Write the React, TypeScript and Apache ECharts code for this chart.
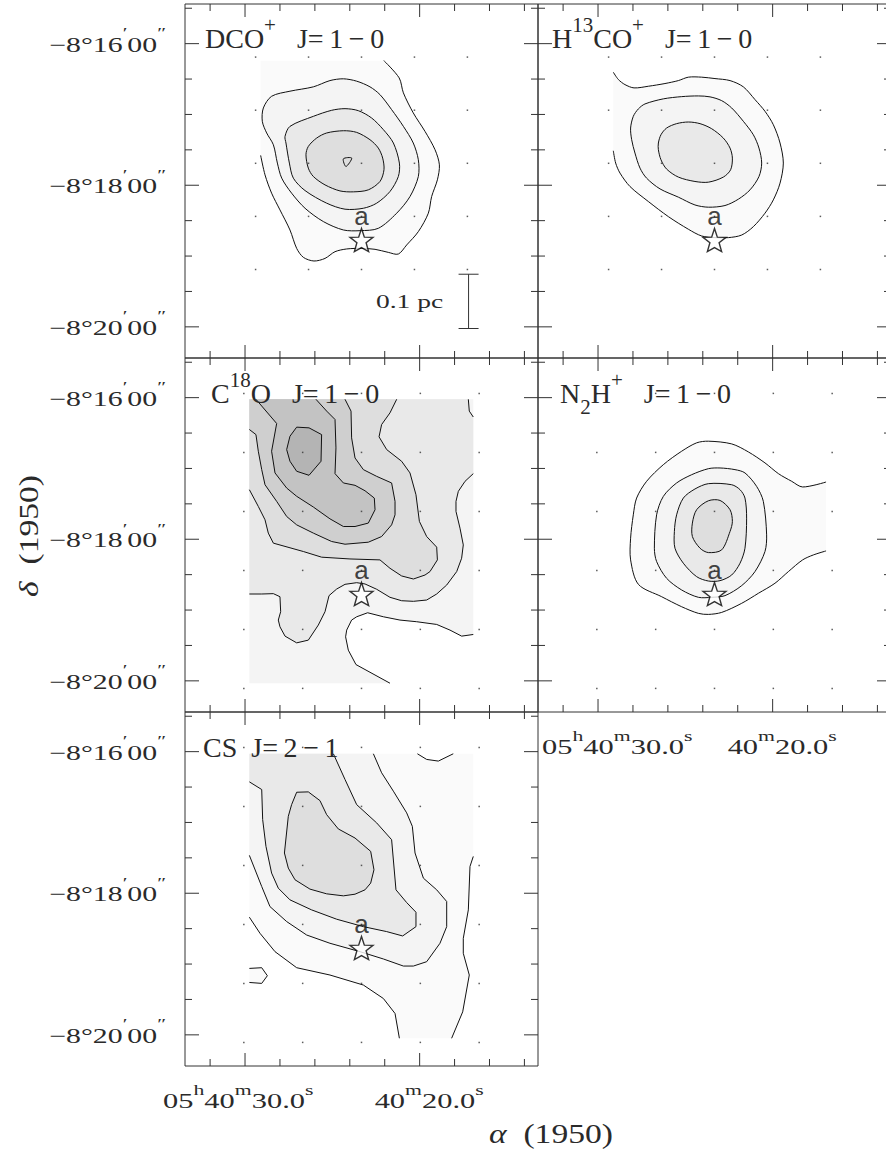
import React, { useEffect, useRef } from "react";
import * as echarts from "echarts";

// All contour vertices are map offsets from the star, in arcsec: [east, north].
const xRange = [-150, 150];
const yRange = [-100, 200];
const raTicksSec = [32, 30, 28, 26, 24, 22, 20, 18, 16, 14];
const raMajorSec = [30, 20];
const decTicksMin = [15.5, 16, 16.5, 17, 17.5, 18, 18.5, 19, 19.5, 20];
const decMajorMin = [16, 18, 20];
const starRaSec = 23.33;
const arcsecPerRaSec = 14.84;
const dec16Offset = 166.4;
const dots45x = [90, 45, 0, -45, -90];
const dots45y = [155, 110, 65, 20, -25];
const dots50x = [100, 50, 0, -50, -100];
const dots50y = [170, 120, 70, 20, -30, -80];
const scaleBarX = -91;
const scaleBarY = [-29, -75];
const star = [[0, 0]];

const dco1 = [[-19,152],[-32,137.4],[-35.6,124.7],[-44,107.7],[-54,92],[-62.5,76.5],[-66.2,63.7],[-64.5,51],[-59.6,36.8],[-56.8,22.7],[-48.3,7.1],[-38.4,-4.2],[-31.3,-11.9],[-22.8,-10.5],[-11.5,-7.9],[-0.1,-7.1],[12.6,-7.6],[22.5,-9.9],[31,-15.6],[40.4,-17.8],[49.4,-14.7],[55.1,-7.1],[60.8,8.5],[69.3,25.5],[76.4,39.7],[82,55.2],[85.7,71.7]];
const dco1Edge = [[85.7,152]];
const dco2 = [[76.4,121.8],[60.8,126.1],[40.9,129.8],[26.8,135.1],[15.4,136.6],[4.1,134.6],[-7.2,129.8],[-15.7,123.2],[-25.6,110.5],[-35.6,96.3],[-44,82.2],[-48.3,68],[-48.3,53.8],[-41.2,36.8],[-29.9,22.7],[-14.3,9.9],[1.3,7.9],[15.4,8.5],[32.4,15.6],[48,26.9],[59.4,39.7],[67.8,52.4],[71.5,65.2],[74.9,80.7],[80.6,90.7],[84.3,100.6],[83.4,111.9]];
const dco3 = [[60.8,96.3],[40.9,104.8],[25.4,109.9],[14,111.3],[2.7,109.6],[-8.6,103.4],[-18.6,93.5],[-27.1,82.2],[-32.2,65.2],[-31.3,53.8],[-24.2,41.1],[-12.9,31.2],[-1.6,26.9],[14,26.1],[29.6,31.2],[48,41.9],[57.9,52.4],[61.3,65.2],[64.2,82.2],[65,87.8]];
const dco4 = [[47.2,72.2],[45.2,79.3],[38.1,86.4],[29.6,90.7],[15.4,92.6],[4.1,91.2],[-7.2,85],[-14.3,77.9],[-18,69.4],[-19.1,59.5],[-15.7,49.6],[-5.8,42.5],[6.9,40.8],[18.3,41.6],[31,46.7],[40.9,53.8],[45.2,60.9]];
const dco5 = [[15.4,68.8],[8.3,69.4],[13.2,62.3]];

const h13co1 = [[86,142.2],[81.7,136],[76.1,131.7],[68.4,128.9],[56.2,130.3],[42.1,132.6],[30.7,135.1],[22.2,138],[10.9,138],[-0.4,136.8],[-13.2,135.1],[-24.5,129.8],[-34.4,119],[-42.9,109.1],[-50,97.7],[-55.7,82.2],[-58.5,65.2],[-55.7,48.2],[-50,34],[-42.9,22.7],[-33,11.3],[-23.1,4.2],[-11.8,2],[-0.4,2],[10.9,3.4],[22.2,9.1],[39.2,19.8],[56.2,32.6],[71.8,45.3],[80.3,56.7],[84,65.2],[86,75.6]];
const h13co2 = [[59.1,115.3],[43.5,119.6],[27.9,121.5],[13.7,122.1],[3.8,121.3],[-6.1,118.1],[-14.6,111.9],[-24.5,100.6],[-33,89.2],[-37.8,77.9],[-40.1,65.2],[-37.8,53.8],[-30.2,42.5],[-20.3,34.6],[-8.9,29.2],[5.2,27.8],[16.6,29.7],[30.7,36.3],[46.3,43.3],[57.7,52.4],[63.3,60.9],[67.6,73.7],[70.4,85],[71.3,94.9],[69,104.8],[64.7,111.1]];
const h13co3 = [[47.7,82.2],[45.5,89.2],[40.7,94.9],[32.2,98.6],[22.2,100],[12.3,98.6],[2.4,94.3],[-7.5,86.4],[-13.2,77.9],[-15.2,69.4],[-13.7,59.5],[-7.5,53.3],[5.2,49],[16.6,49.6],[30.7,53.3],[40.7,60.1],[45.5,68],[47.7,76.5]];

const c18o1 = [[-24.2,-75.6],[4.7,-59.8],[11.2,-47.6],[13.5,-36.3],[12.6,-30.6],[8.4,-22.1],[4.1,-19.3],[-5.2,-15.9],[-18.6,-19.3],[-32.7,-22.1],[-46.9,-23.5],[-63.9,-25.8],[-75.2,-30.6],[-85.1,-35.7],[-95,-34.3]];
const c18o1Edge = [[-95,165],[95.3,165],[95.3,-75.6]];
const c18o2 = [[-95,102],[-88,95.5],[-82.3,87],[-80.3,78.5],[-80.3,70],[-83.7,55.8],[-86.5,41.6],[-85.1,30.3],[-80.9,19],[-72.4,7.6],[-63.9,0],[-55.4,-5.1],[-44.1,-6.2],[-34.1,-5.7],[-24.2,-2.8],[-12.9,4],[-3,8.5],[4.1,9.6],[14,8.2],[21.1,4.2],[27.6,-1.4],[31,-15],[36.7,-26.3],[45.2,-39.1],[55.1,-41.4],[65,-35.7],[69.3,-27.8],[70.7,-22.1],[68.7,-15],[69.3,-2.3],[74.9,0.3],[84.8,0],[95.3,0]];
const c18o2Corner = [[-90.8,165],[-91.6,155],[-95,150]];
const c18o2Edge = [[95.3,165],...c18o2Corner];
const c18o3 = [[-29.9,165],[-24.2,153.5],[-17.1,143.6],[-14.9,133.2],[-21.4,122.4],[-34.1,112.5],[-41.2,102.6],[-46.3,84.1],[-49.2,61.5],[-55.4,48.7],[-63.9,39.7],[-64.5,28.9],[-58.2,19],[-54,16.1],[-44.1,12.7],[-34.1,15.3],[-24.2,21.8],[-15.7,28.9],[9.8,29.7],[33.9,31.2],[49.4,36],[74.9,43.1],[79.2,51.6],[82,62.9],[87.7,74.2],[95.3,88.4]];
const c18o3Edge = [[95.3,165]];
const c18o4 = [[14,165],[8.9,155],[8.4,132.3],[5.5,115.3],[-1.6,105.4],[-12.9,99.7],[-25.6,94.1],[-28.5,78.5],[-28.5,67.1],[-25.6,58.6],[-17.1,48.7],[-5.8,43.9],[14,42.2],[25.4,44.5],[40.9,51.6],[55.1,58.6],[63.6,65.7],[72.1,78.5],[82,92.6],[84.8,105.4],[87.7,121],[89.7,135.1],[95.3,139.4]];
const c18o4Edge = [[95.3,165]];
const c18o5 = [[38.7,165],[29.6,155],[22.5,147.9],[21.7,123.8],[22.5,102],[15.4,94.1],[5.5,92.1],[-3,87.5],[-10.9,81.3],[-11.5,71.4],[-5.8,60.1],[5.5,57.2],[15.4,57.2],[26.8,63.7],[40.9,73.7],[55.1,82.8],[63.6,89.8],[73.5,102.6],[76.4,121],[72.1,144.5],[89.7,165]];
const c18o5Edge: number[][] = [];
const c18o6 = [[55.1,141.4],[44.6,140.8],[33.9,135.1],[34.4,112.5],[44.6,100.6],[55.1,104],[60.8,112.5],[63.6,122.4],[60.8,133.7]];

const n2h1 = [[-94.8,94.9],[-74.9,90.7],[-65.6,95.5],[-54.3,102],[-42.9,111.1],[-28.8,120.4],[-14.6,127.2],[5.2,129.5],[15.2,128.1],[27.9,121],[43.5,109.6],[57.7,95.5],[66.2,81.3],[69,67.1],[71.3,47.3],[71.3,28.9],[64.7,8.2],[44.9,-2.3],[27.9,-10.8],[13.7,-16.4],[5.2,-17.3],[-6.1,-15.6],[-23.1,-7.9],[-37.3,0.6],[-51.4,9.1],[-62.8,19],[-74.9,28.9],[-84,33.1],[-94.8,36.5]];
const n2h2 = [[5.2,106.2],[-4.7,106.8],[-17.4,105.4],[-25.9,102.6],[-35.8,91.2],[-41.5,78.5],[-44.3,50.1],[-42.9,36],[-34.4,19],[-23.1,7.1],[-8.9,-1.4],[2.4,-2.8],[13.7,-2.8],[27.9,3.4],[40.7,13.3],[49.2,27.5],[51.1,38.8],[49.2,67.1],[43.5,82.7],[32.2,94.1],[19.4,101.1]];
const n2h3 = [[5.2,93.5],[-14.6,92.6],[-21.7,88.4],[-25.9,81.3],[-27.3,64.3],[-25.9,38.8],[-21.7,26.1],[-14.6,16.1],[-4.7,11.3],[5.2,11],[15.2,14.7],[26.5,26.1],[33.6,38.8],[34.1,53],[32.2,67.1],[26.5,81.3],[16.6,89]];
const n2h4 = [[5.2,79],[-4.7,79.3],[-13.2,71.4],[-15.2,61.5],[-13.2,53],[-6.1,37.4],[5.2,35.1],[12.3,38.8],[18.8,48.7],[18.8,60.1],[15.2,71.4]];

const cs1 = [[95.3,26.1],[86.3,12.5],[73.5,-3.1],[55.1,-16.7],[26.8,-22.9],[-1.6,-31.4],[-18.6,-42.8],[-28.5,-55.5],[-32.2,-76.5]];
const cs1b = [[-76.6,-76.5],[-86,-54.1],[-91.6,-22.9],[-86.5,-4.5],[-86.5,8.2],[-90.8,32.3],[-92.2,69.1],[-95,77.6]];
const cs1Notch = [[-78,164.6],[-65.3,158.4],[-55.4,159.8],[-47.5,164.6]];
const cs1Edge = [...cs1b, [-95,164.6], ...cs1Notch, [95.3,164.6]];
const csIsland = [[95.3,-17.3],[84.8,-16.7],[80,-23.5],[84.8,-30],[95.3,-29.2]];
const cs2 = [[-10.1,164.6],[-17.1,148.5],[-27.1,132.9],[-38.4,114.5],[-43.2,103.1],[-45.5,80.5],[-52.6,59.2],[-63.9,49.3],[-72.4,39.4],[-72.4,18.1],[-66.7,4],[-55.4,-11.6],[-44.1,-15.3],[-35.6,-15.3],[-18.6,-9.3],[1.3,-3.1],[26.8,4],[46.6,11],[63.6,22.4],[77.8,35.1],[84.8,52.1],[95.3,78.5]];
const cs2Edge = [[95.3,164.6]];
const cs3 = [[23.9,164.6],[14,142.8],[4.1,121.5],[-12.9,106],[-25.6,91.8],[-29.3,49.3],[-38.4,38.5],[-46.3,30.3],[-46.3,18.1],[-35,10.2],[-21.4,13.9],[-1.6,18.1],[21.1,24.4],[42.4,32.3],[60.8,40.8],[70.7,50.7],[76.4,63.5],[81.2,86.1],[84,108.8],[84.8,134.3],[95.3,140.8]];
const cs3Edge = [[95.3,164.6]];
const cs4 = [[55.1,132],[45.2,132.3],[35.3,124.9],[29.6,113],[19.7,100.9],[5.5,93.2],[-7.8,81.9],[-10.6,66.3],[-7.8,55],[-3,49.3],[5.5,45.6],[15.4,44.2],[29.6,45.9],[43.8,49.9],[56.5,57.8],[62.2,67.7],[65.5,80.5],[62.2,111.6],[59.4,121.5]];

const greys = ["#fafafa", "#f4f4f4", "#e9e9e9", "#dedede", "#cfcfcf", "#c3c3c3", "#b4b4b4"];
const INK = "#2a2a2a";
const LINE = "#111";
const SERIF = "Liberation Serif";

const labelRich = {
  n: { fontFamily: SERIF, fontSize: 21, lineHeight: 38, fill: INK, verticalAlign: "middle" },
  s: { fontFamily: SERIF, fontSize: 15, lineHeight: 15, fill: INK, verticalAlign: "top" },
};
const titleRich = {
  n: { fontFamily: SERIF, fontSize: 28, lineHeight: 48, fill: INK, verticalAlign: "middle" },
  s: { fontFamily: SERIF, fontSize: 21, lineHeight: 21, fill: INK, verticalAlign: "top" },
  d: { fontFamily: SERIF, fontSize: 21, lineHeight: 21, fill: INK, verticalAlign: "bottom" },
};
const nameRich = {
  g: { fontFamily: SERIF, fontSize: 28, fontStyle: "italic", fill: INK },
  n: { fontFamily: SERIF, fontSize: 28, fill: INK },
};

const raLabelA = "{n|05}{s|h}{n|40}{s|m}{n|30.0}{s|s}";
const raLabelB = "{n|40}{s|m}{n|20.0}{s|s}";
const decLabel = (m: number) => `{n|−8°${m}}{s|′}{n|00}{s|″}`;
const T = "\u2009";
const transition10 = `J=${T}1${T}−${T}0`;
const transition21 = `J=${T}2${T}−${T}1`;

type Layer = { fill: string; line: number[][]; edge?: number[][]; closed?: boolean; extra?: number[][][] };
type Panel = {
  left: number; top: number; title: string; titleX: number; titleY: number; layers: Layer[];
  dotX: number[]; dotY: number[]; smooth: number; yLabels: boolean; raLabels?: number[]; scaleBar?: boolean;
};

const panels: Panel[] = [
  {
    left: 185, top: 4, title: `{n|DCO}{s|+}{n|   ${transition10}}`, titleX: 205, titleY: 38, smooth: 0.3, yLabels: true, scaleBar: true,
    dotX: dots45x, dotY: dots45y,
    layers: [
      { fill: greys[0], line: dco1, edge: dco1Edge },
      { fill: greys[1], line: dco2, closed: true },
      { fill: greys[2], line: dco3, closed: true },
      { fill: greys[3], line: dco4, closed: true },
      { fill: greys[3], line: dco5, closed: true },
    ],
  },
  {
    left: 538, top: 4, title: `{n|H}{s|13}{n|CO}{s|+}{n|   ${transition10}}`, titleX: 552, titleY: 38, smooth: 0.3, yLabels: false,
    dotX: dots45x, dotY: dots45y,
    layers: [
      { fill: greys[0], line: h13co1, edge: [] },
      { fill: greys[1], line: h13co2, closed: true },
      { fill: greys[2], line: h13co3, closed: true },
    ],
  },
  {
    left: 185, top: 358, title: `{n|C}{s|18}{n|O   ${transition10}}`, titleX: 211, titleY: 393, smooth: 0, yLabels: true,
    dotX: dots50x, dotY: dots50y,
    layers: [
      { fill: greys[1], line: c18o1, edge: c18o1Edge },
      { fill: greys[2], line: c18o2, edge: c18o2Edge, extra: [c18o2Corner] },
      { fill: greys[3], line: c18o3, edge: c18o3Edge },
      { fill: greys[4], line: c18o4, edge: c18o4Edge },
      { fill: greys[5], line: c18o5, edge: c18o5Edge },
      { fill: greys[6], line: c18o6, closed: true },
    ],
  },
  {
    left: 538, top: 358, title: `{n|N}{d|2}{n|H}{s|+}{n|   ${transition10}}`, titleX: 560, titleY: 393, smooth: 0.3, yLabels: false, raLabels: [-56, -45],
    dotX: dots50x, dotY: dots50y,
    layers: [
      { fill: greys[0], line: n2h1, edge: [] },
      { fill: greys[1], line: n2h2, closed: true },
      { fill: greys[2], line: n2h3, closed: true },
      { fill: greys[3], line: n2h4, closed: true },
    ],
  },
  {
    left: 185, top: 712, title: `{n|CS  ${transition21}}`, titleX: 203, titleY: 747, smooth: 0, yLabels: true, raLabels: [-82, -45],
    dotX: dots50x, dotY: dots50y,
    layers: [
      { fill: greys[0], line: cs1, edge: cs1Edge, extra: [cs1b, cs1Notch] },
      { fill: greys[0], line: csIsland, edge: [] },
      { fill: greys[1], line: cs2, edge: cs2Edge },
      { fill: greys[2], line: cs3, edge: cs3Edge },
      { fill: greys[3], line: cs4, closed: true },
    ],
  },
];

const raToOffset = (s: number) => (s - starRaSec) * arcsecPerRaSec;
const decToOffset = (m: number) => dec16Offset - (m - 16) * 60;

function contourSeries(p: Panel, i: number) {
  return {
    type: "custom", xAxisIndex: i, yAxisIndex: i, silent: true, z: 2,
    data: p.layers.map((_, k) => [k, k]),
    renderItem: (params: any, api: any) => {
      const l = p.layers[params.dataIndex];
      const pts = l.line.map((q) => api.coord(q));
      if (l.closed) {
        return { type: "polygon", shape: { points: pts, smooth: p.smooth }, style: { fill: l.fill, stroke: LINE, lineWidth: 1 } };
      }
      const poly = [...l.line, ...(l.edge || [])].map((q) => api.coord(q));
      const children: any[] = [
        { type: "polygon", shape: { points: poly }, style: { fill: l.fill, stroke: "none" } },
        { type: "polyline", shape: { points: pts, smooth: p.smooth }, style: { fill: "none", stroke: LINE, lineWidth: 1 } },
      ];
      (l.extra || []).forEach((e) => {
        children.push({ type: "polyline", shape: { points: e.map((q) => api.coord(q)) }, style: { fill: "none", stroke: LINE, lineWidth: 1 } });
      });
      return { type: "group", children };
    },
  };
}

function frameSeries(p: Panel, i: number) {
  return {
    type: "custom", xAxisIndex: i, yAxisIndex: i, silent: true, z: 5,
    data: [[0, 0]],
    renderItem: (_: any, api: any) => {
      const children: any[] = [];
      const seg = (x1: number, y1: number, x2: number, y2: number) =>
        children.push({ type: "line", shape: { x1, y1, x2, y2 }, style: { stroke: "#333", lineWidth: 1 } });
      raTicksSec.forEach((s) => {
        const v = raToOffset(s);
        const len = raMajorSec.includes(s) ? 13 : 7;
        const [x, yb] = api.coord([v, yRange[0]]);
        const [, yt] = api.coord([v, yRange[1]]);
        seg(x, yb, x, yb - len);
        seg(x, yt, x, yt + len);
      });
      decTicksMin.forEach((m) => {
        const v = decToOffset(m);
        const len = decMajorMin.includes(m) ? 14 : 7;
        const [xl, y] = api.coord([xRange[1], v]);
        const [xr] = api.coord([xRange[0], v]);
        seg(xl, y, xl + len, y);
        seg(xr, y, xr - len, y);
        if (p.yLabels && decMajorMin.includes(m)) {
          children.push({
            type: "text", x: xl - 19, y: y + 1, scaleX: 1.42,
            style: { text: decLabel(m), rich: labelRich, align: "right", verticalAlign: "middle" },
          });
        }
      });
      if (p.raLabels) {
        raMajorSec.forEach((s, k) => {
          const [x, y] = api.coord([raToOffset(s), yRange[0]]);
          children.push({
            type: "text", x: x + p.raLabels![k], y: y + 35, scaleX: 1.45,
            style: { text: k === 0 ? raLabelA : raLabelB, rich: labelRich, align: "left", verticalAlign: "middle" },
          });
        });
      }
      if (p.scaleBar) {
        const [x, y1] = api.coord([scaleBarX, scaleBarY[0]]);
        const [, y2] = api.coord([scaleBarX, scaleBarY[1]]);
        seg(x, y1, x, y2);
        seg(x - 10, y1, x + 10, y1);
        seg(x - 10, y2, x + 10, y2);
        children.push({
          type: "text", x: x - 59, y: (y1 + y2) / 2, scaleX: 1.45,
          style: { text: "0.1 pc", fontFamily: SERIF, fontSize: 19, fill: INK, align: "center", verticalAlign: "middle" },
        });
      }
      return { type: "group", children };
    },
  };
}

const starPath = "path://M0,-10 L2.35,-3.24 L9.51,-3.09 L3.8,1.24 L5.88,8.09 L0,5 L-5.88,8.09 L-3.8,1.24 L-9.51,-3.09 L-2.35,-3.24 Z";

function buildOption() {
  const grid: any[] = [];
  const xAxis: any[] = [];
  const yAxis: any[] = [];
  const series: any[] = [];
  const hidden = { axisLine: { show: false }, axisTick: { show: false }, axisLabel: { show: false }, splitLine: { show: false } };
  panels.forEach((p, i) => {
    grid.push({ left: p.left, top: p.top, width: 353, height: 354, show: true, borderColor: "#333", borderWidth: 1, backgroundColor: "transparent" });
    xAxis.push({ type: "value", gridIndex: i, min: xRange[0], max: xRange[1], inverse: true, ...hidden });
    yAxis.push({ type: "value", gridIndex: i, min: yRange[0], max: yRange[1], ...hidden });
    series.push(contourSeries(p, i));
    series.push(frameSeries(p, i));
    const dots: number[][] = [];
    p.dotY.forEach((y) => p.dotX.forEach((x) => dots.push([x, y])));
    series.push({ type: "scatter", xAxisIndex: i, yAxisIndex: i, silent: true, z: 4, symbol: "rect", symbolSize: 1.5, itemStyle: { color: "#333" }, data: dots });
    series.push({
      type: "scatter", xAxisIndex: i, yAxisIndex: i, silent: true, z: 6, symbol: starPath, symbolSize: 23,
      itemStyle: { color: "#fff", borderColor: "#000", borderWidth: 1.4 },
      label: { show: true, formatter: "a", position: "top", distance: -1, fontFamily: "Liberation Sans", fontSize: 26, color: "#111" },
      data: star,
    });
  });
  const graphic: any[] = panels.map((p) => ({
    type: "text", x: p.titleX, y: p.titleY, z: 10,
    style: { text: p.title, rich: titleRich, align: "left", verticalAlign: "middle" },
  }));
  graphic.push({
    type: "text", x: 489, y: 1133, scaleX: 1.2, z: 10,
    style: { text: "{g|α}{n|  (1950)}", rich: nameRich, align: "left", verticalAlign: "middle" },
  });
  graphic.push({
    type: "text", x: 28, y: 536, rotation: Math.PI / 2, scaleX: 1.2, z: 10,
    style: { text: "{g|δ}{n|  (1950)}", rich: nameRich, align: "center", verticalAlign: "middle" },
  });
  return { animation: false, backgroundColor: "#fff", grid, xAxis, yAxis, series, graphic };
}

export default function App() {
  const ref = useRef<HTMLDivElement>(null);
  useEffect(() => {
    const chart = echarts.init(ref.current!, undefined, { renderer: "svg" });
    chart.setOption(buildOption() as any);
    return () => chart.dispose();
  }, []);
  return (
    <div style={{ position: "absolute", left: 0, top: 0, width: 886, height: 1152, overflow: "hidden" }}>
      <div ref={ref} style={{ width: 900, height: 1152 }} />
    </div>
  );
}
